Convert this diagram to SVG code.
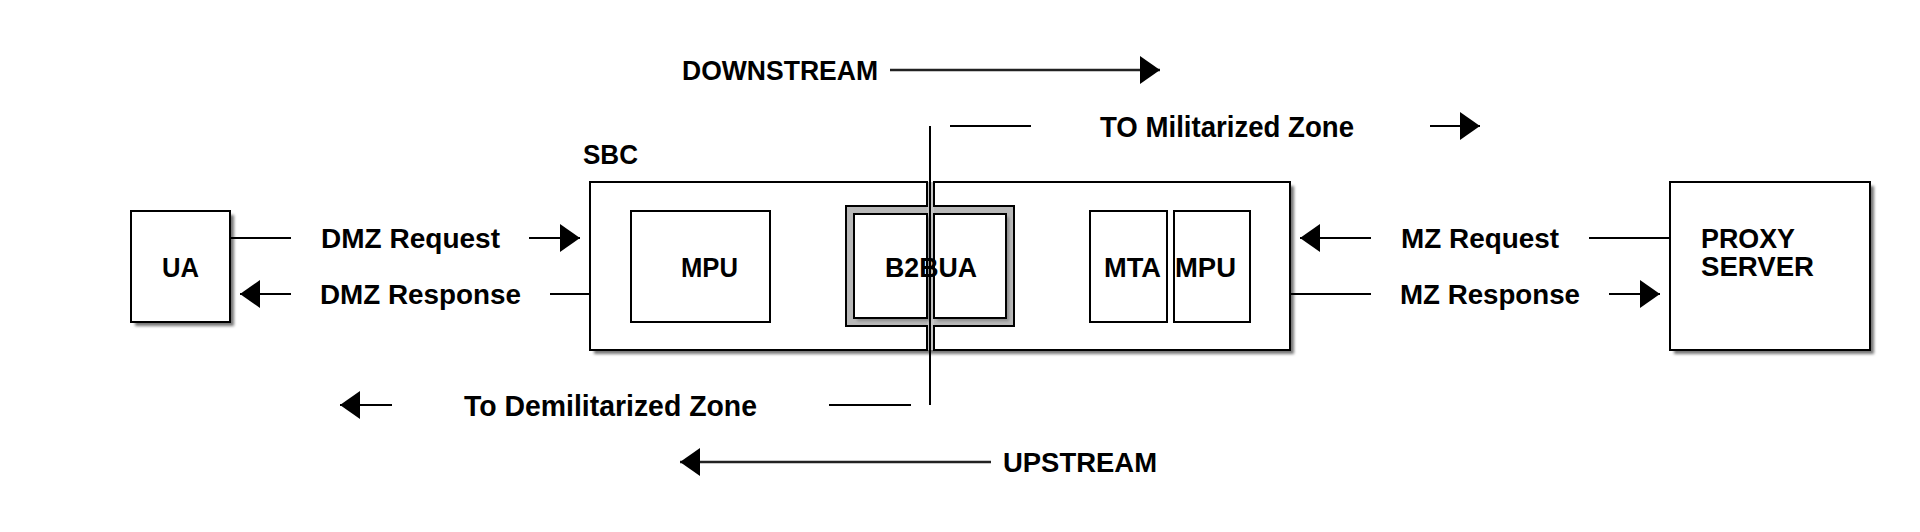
<svg xmlns="http://www.w3.org/2000/svg" width="1920" height="532" viewBox="0 0 1920 532">
<style>
  .t{font-family:"Liberation Sans",Arial,sans-serif;font-weight:bold;font-size:27.5px;fill:#000}
  .box{fill:#fff;stroke:#000;stroke-width:2}
  .sh{fill:#777;filter:url(#blur)}
  .ln{stroke:#000;stroke-width:2;fill:none}
  .big{stroke:#222;stroke-width:2.6;fill:none}
</style>
<defs>
  <filter id="blur" x="-10%" y="-10%" width="130%" height="130%"><feGaussianBlur stdDeviation="1.6"/></filter>
  <marker id="ah" markerUnits="userSpaceOnUse" markerWidth="22" markerHeight="30" refX="20" refY="14" orient="auto" viewBox="0 0 22 30">
    <path d="M0,0 L20,14 L0,28 Z" fill="#000"/>
  </marker>
</defs>
<rect width="1920" height="532" fill="#fff"/>

<g id="ua">
  <rect class="sh" x="135" y="215" width="99" height="111"/>
  <rect class="box" x="131" y="211" width="99" height="111"/>
  <text class="t" x="162" y="277" textLength="37" lengthAdjust="spacingAndGlyphs">UA</text>
</g>

<g id="sbc">
  <text class="t" x="583" y="164" textLength="55" lengthAdjust="spacingAndGlyphs">SBC</text>
  <path class="sh" d="M594,186 H1294 V354 H594 Z"/>
  <rect x="846" y="206" width="168" height="120" fill="#b8b8b8"/>
  <rect x="927" y="182" width="7" height="168" fill="#c4c4c4"/>
  <path class="box" d="M590,182 H927 V206 H846 V326 H927 V350 H590 Z"/>
  <path class="box" d="M934,182 H1290 V350 H934 V326 H1014 V206 H934 Z"/>
</g>

<g id="mpu1">
  <rect class="box" x="631" y="211" width="139" height="111"/>
  <text class="t" x="681" y="277" textLength="57" lengthAdjust="spacingAndGlyphs">MPU</text>
</g>

<g id="b2bua">
  <rect x="857" y="217" width="73" height="104" fill="#8a8a8a" filter="url(#blur)"/>
  <rect x="937" y="217" width="72" height="104" fill="#8a8a8a" filter="url(#blur)"/>
  <rect class="box" x="854" y="214" width="73" height="104"/>
  <rect class="box" x="934" y="214" width="72" height="104"/>
</g>

<g id="mta">
  <rect class="box" x="1090" y="211" width="77" height="111"/>
  <text class="t" x="1104" y="277" textLength="57" lengthAdjust="spacingAndGlyphs">MTA</text>
</g>

<g id="mpu2">
  <rect class="box" x="1174" y="211" width="76" height="111"/>
  <text class="t" x="1175" y="277" textLength="61" lengthAdjust="spacingAndGlyphs">MPU</text>
</g>

<g id="proxy">
  <rect class="sh" x="1674" y="186" width="200" height="168"/>
  <rect class="box" x="1670" y="182" width="200" height="168"/>
  <text class="t" x="1701" y="248" textLength="94" lengthAdjust="spacingAndGlyphs">PROXY</text>
  <text class="t" x="1701" y="276" textLength="113" lengthAdjust="spacingAndGlyphs">SERVER</text>
</g>

<g id="connectors">
  <line class="ln" x1="930" y1="126" x2="930" y2="405"/>
  <line class="ln" x1="230" y1="238" x2="291" y2="238"/>
  <line class="ln" x1="529" y1="238" x2="580" y2="238" marker-end="url(#ah)"/>
  <line class="ln" x1="590" y1="294" x2="550" y2="294"/>
  <line class="ln" x1="291" y1="294" x2="240" y2="294" marker-end="url(#ah)"/>
  <line class="ln" x1="1670" y1="238" x2="1589" y2="238"/>
  <line class="ln" x1="1371" y1="238" x2="1300" y2="238" marker-end="url(#ah)"/>
  <line class="ln" x1="1290" y1="294" x2="1371" y2="294"/>
  <line class="ln" x1="1609" y1="294" x2="1660" y2="294" marker-end="url(#ah)"/>
  <line class="big" x1="890" y1="70" x2="1160" y2="70" marker-end="url(#ah)"/>
  <line class="ln" x1="950" y1="126" x2="1031" y2="126"/>
  <line class="ln" x1="1430" y1="126" x2="1480" y2="126" marker-end="url(#ah)"/>
  <line class="ln" x1="911" y1="405" x2="829" y2="405"/>
  <line class="ln" x1="392" y1="405" x2="340" y2="405" marker-end="url(#ah)"/>
  <line class="big" x1="991" y1="462" x2="680" y2="462" marker-end="url(#ah)"/>
</g>

<g id="labels">
  <text class="t" x="321" y="248" textLength="179" lengthAdjust="spacingAndGlyphs">DMZ Request</text>
  <text class="t" x="320" y="304" textLength="201" lengthAdjust="spacingAndGlyphs">DMZ Response</text>
  <text class="t" x="1401" y="248" textLength="158" lengthAdjust="spacingAndGlyphs">MZ Request</text>
  <text class="t" x="1400" y="304" textLength="180" lengthAdjust="spacingAndGlyphs">MZ Response</text>
  <text class="t" x="885" y="277" textLength="92" lengthAdjust="spacingAndGlyphs">B2BUA</text>
  <text class="t" x="682" y="80" textLength="196" lengthAdjust="spacingAndGlyphs">DOWNSTREAM</text>
  <text class="t" x="1100" y="137" style="font-size:29.5px" textLength="254" lengthAdjust="spacingAndGlyphs">TO Militarized Zone</text>
  <text class="t" x="464" y="416" style="font-size:29.5px" textLength="293" lengthAdjust="spacingAndGlyphs">To Demilitarized Zone</text>
  <text class="t" x="1003" y="472" textLength="154" lengthAdjust="spacingAndGlyphs">UPSTREAM</text>
</g>
</svg>
